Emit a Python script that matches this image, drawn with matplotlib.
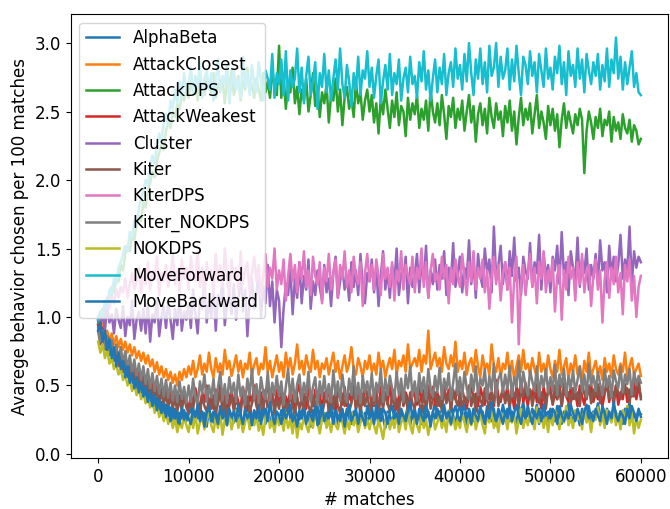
import matplotlib
matplotlib.use("Agg")
import matplotlib.pyplot as plt

plt.rcParams["font.size"] = 12

# matches, sampled every 250
matches = list(range(0, 60001, 250))

alpha_beta = [
    0.98, 0.86, 0.92, 0.80, 0.86, 0.74, 0.80, 0.70, 0.76, 0.66,
    0.72, 0.60, 0.66, 0.56, 0.62, 0.52, 0.58, 0.48, 0.55, 0.45,
    0.50, 0.42, 0.47, 0.38, 0.44, 0.35, 0.41, 0.32, 0.38, 0.30,
    0.36, 0.28, 0.34, 0.25, 0.33, 0.22, 0.30, 0.26, 0.32, 0.24,
    0.29, 0.35, 0.22, 0.31, 0.26, 0.37, 0.24, 0.30, 0.20, 0.33,
    0.27, 0.23, 0.34, 0.21, 0.30, 0.26, 0.36, 0.22, 0.31, 0.28,
    0.23, 0.33, 0.26, 0.30, 0.19, 0.32, 0.25, 0.35, 0.28, 0.22,
    0.31, 0.24, 0.29, 0.37, 0.22, 0.30, 0.26, 0.21, 0.34, 0.27,
    0.24, 0.32, 0.21, 0.30, 0.36, 0.26, 0.23, 0.33, 0.28, 0.25,
    0.30, 0.37, 0.24, 0.28, 0.20, 0.32, 0.26, 0.35, 0.22, 0.30,
    0.26, 0.21, 0.33, 0.28, 0.24, 0.37, 0.22, 0.30, 0.32, 0.25,
    0.33, 0.26, 0.22, 0.31, 0.28, 0.20, 0.35, 0.26, 0.30, 0.23,
    0.28, 0.35, 0.24, 0.30, 0.22, 0.33, 0.26, 0.19, 0.31, 0.28,
    0.23, 0.30, 0.37, 0.26, 0.32, 0.24, 0.28, 0.35, 0.21, 0.30,
    0.33, 0.25, 0.28, 0.22, 0.35, 0.26, 0.31, 0.24, 0.30, 0.38,
    0.26, 0.31, 0.22, 0.33, 0.28, 0.24, 0.36, 0.28, 0.22, 0.31,
    0.35, 0.26, 0.30, 0.21, 0.33, 0.28, 0.24, 0.37, 0.30, 0.26,
    0.31, 0.22, 0.35, 0.28, 0.24, 0.33, 0.21, 0.30, 0.26, 0.36,
    0.28, 0.33, 0.24, 0.31, 0.26, 0.22, 0.35, 0.30, 0.38, 0.26,
    0.30, 0.24, 0.33, 0.28, 0.36, 0.22, 0.31, 0.26, 0.30, 0.21,
    0.33, 0.28, 0.24, 0.35, 0.30, 0.22, 0.31, 0.26, 0.37, 0.28,
    0.24, 0.31, 0.28, 0.21, 0.33, 0.30, 0.26, 0.35, 0.24, 0.31,
    0.28, 0.37, 0.26, 0.30, 0.22, 0.33, 0.28, 0.24, 0.35, 0.30,
    0.26, 0.31, 0.22, 0.33, 0.28, 0.38, 0.24, 0.30, 0.26, 0.33,
    0.27]

attack_closest = [
    0.94, 0.88, 0.96, 0.86, 0.90, 0.82, 0.88, 0.80, 0.86, 0.78,
    0.84, 0.76, 0.82, 0.74, 0.80, 0.72, 0.78, 0.70, 0.75, 0.68,
    0.74, 0.66, 0.72, 0.64, 0.69, 0.60, 0.67, 0.58, 0.64, 0.56,
    0.62, 0.54, 0.60, 0.52, 0.58, 0.50, 0.60, 0.54, 0.62, 0.56,
    0.64, 0.58, 0.68, 0.56, 0.62, 0.72, 0.58, 0.66, 0.60, 0.74,
    0.62, 0.56, 0.70, 0.60, 0.66, 0.58, 0.76, 0.62, 0.68, 0.57,
    0.64, 0.72, 0.60, 0.68, 0.56, 0.66, 0.62, 0.74, 0.58, 0.65,
    0.70, 0.58, 0.66, 0.62, 0.78, 0.60, 0.68, 0.56, 0.64, 0.72,
    0.60, 0.67, 0.56, 0.74, 0.62, 0.70, 0.58, 0.66, 0.80, 0.62,
    0.68, 0.58, 0.72, 0.64, 0.60, 0.76, 0.62, 0.68, 0.56, 0.66,
    0.62, 0.70, 0.58, 0.66, 0.74, 0.60, 0.68, 0.55, 0.64, 0.72,
    0.60, 0.66, 0.78, 0.62, 0.58, 0.70, 0.64, 0.56, 0.68, 0.62,
    0.72, 0.60, 0.66, 0.58, 0.74, 0.62, 0.68, 0.56, 0.64, 0.70,
    0.62, 0.76, 0.58, 0.68, 0.64, 0.72, 0.60, 0.80, 0.62, 0.66,
    0.70, 0.64, 0.76, 0.60, 0.72, 0.66, 0.90, 0.62, 0.68, 0.74,
    0.64, 0.70, 0.60, 0.78, 0.66, 0.62, 0.72, 0.64, 0.82, 0.60,
    0.68, 0.62, 0.74, 0.58, 0.66, 0.70, 0.60, 0.76, 0.64, 0.56,
    0.72, 0.62, 0.66, 0.58, 0.80, 0.64, 0.60, 0.70, 0.56, 0.66,
    0.62, 0.74, 0.58, 0.68, 0.54, 0.64, 0.72, 0.60, 0.76, 0.62,
    0.66, 0.58, 0.70, 0.62, 0.56, 0.74, 0.60, 0.66, 0.58, 0.72,
    0.62, 0.56, 0.68, 0.60, 0.76, 0.58, 0.64, 0.70, 0.55, 0.66,
    0.60, 0.72, 0.58, 0.64, 0.52, 0.68, 0.60, 0.74, 0.56, 0.62,
    0.68, 0.58, 0.64, 0.54, 0.70, 0.60, 0.66, 0.56, 0.72, 0.62,
    0.58, 0.66, 0.60, 0.74, 0.56, 0.64, 0.70, 0.58, 0.62, 0.66,
    0.57]

attack_dps = [
    0.96, 1.02, 1.06, 1.00, 1.14, 1.10, 1.22, 1.18, 1.30, 1.26,
    1.38, 1.34, 1.46, 1.52, 1.48, 1.60, 1.56, 1.68, 1.74, 1.70,
    1.84, 1.80, 1.92, 1.98, 2.06, 2.02, 2.14, 2.20, 2.26, 2.22,
    2.36, 2.42, 2.38, 2.50, 2.46, 2.56, 2.52, 2.62, 2.58, 2.66,
    2.60, 2.72, 2.64, 2.70, 2.58, 2.76, 2.66, 2.62, 2.74, 2.68,
    2.64, 2.78, 2.60, 2.70, 2.66, 2.74, 2.56, 2.72, 2.68, 2.80,
    2.62, 2.70, 2.76, 2.58, 2.72, 2.66, 2.82, 2.64, 2.70, 2.60,
    2.74, 2.66, 2.58, 2.78, 2.64, 2.72, 2.60, 2.80, 2.68, 2.62,
    2.98, 2.60, 2.76, 2.52, 2.70, 2.64, 2.82, 2.56, 2.68, 2.48,
    2.66, 2.58, 2.74, 2.50, 2.62, 2.78, 2.54, 2.68, 2.46, 2.64,
    2.56, 2.70, 2.42, 2.62, 2.58, 2.74, 2.50, 2.66, 2.40, 2.60,
    2.68, 2.52, 2.60, 2.46, 2.72, 2.56, 2.64, 2.44, 2.58, 2.66,
    2.50, 2.62, 2.42, 2.56, 2.34, 2.60, 2.48, 2.66, 2.52, 2.38,
    2.58, 2.46, 2.64, 2.40, 2.54, 2.50, 2.32, 2.60, 2.44, 2.56,
    2.48, 2.62, 2.38, 2.52, 2.44, 2.58, 2.36, 2.66, 2.50, 2.42,
    2.56, 2.40, 2.62, 2.48, 2.30, 2.54, 2.46, 2.60, 2.38, 2.52,
    2.44, 2.58, 2.36, 2.50, 2.62, 2.42, 2.54, 2.28, 2.48, 2.56,
    2.40, 2.52, 2.34, 2.60, 2.46, 2.38, 2.56, 2.44, 2.50, 2.32,
    2.54, 2.42, 2.58, 2.36, 2.50, 2.26, 2.46, 2.60, 2.40, 2.52,
    2.44, 2.56, 2.34, 2.48, 2.62, 2.38, 2.50, 2.42, 2.30, 2.54,
    2.40, 2.52, 2.36, 2.48, 2.24, 2.44, 2.56, 2.38, 2.50, 2.42,
    2.34, 2.48, 2.40, 2.52, 2.44, 2.05, 2.36, 2.50, 2.42, 2.30,
    2.46, 2.38, 2.52, 2.32, 2.44, 2.40, 2.50, 2.28, 2.46, 2.36,
    2.42, 2.30, 2.48, 2.38, 2.34, 2.44, 2.28, 2.40, 2.36, 2.26,
    2.30]

attack_weakest = [
    0.94, 0.84, 0.92, 0.80, 0.86, 0.76, 0.82, 0.72, 0.78, 0.68,
    0.74, 0.64, 0.70, 0.60, 0.66, 0.57, 0.63, 0.54, 0.60, 0.51,
    0.58, 0.48, 0.55, 0.45, 0.52, 0.43, 0.50, 0.41, 0.48, 0.39,
    0.47, 0.37, 0.45, 0.36, 0.44, 0.34, 0.43, 0.36, 0.46, 0.38,
    0.33, 0.43, 0.36, 0.48, 0.40, 0.32, 0.45, 0.38, 0.50, 0.35,
    0.42, 0.33, 0.47, 0.38, 0.51, 0.36, 0.44, 0.32, 0.40, 0.47,
    0.35, 0.45, 0.38, 0.33, 0.49, 0.40, 0.31, 0.44, 0.37, 0.50,
    0.40, 0.33, 0.45, 0.36, 0.42, 0.53, 0.35, 0.44, 0.32, 0.47,
    0.38, 0.49, 0.33, 0.42, 0.36, 0.47, 0.40, 0.32, 0.45, 0.51,
    0.36, 0.44, 0.33, 0.49, 0.40, 0.35, 0.47, 0.38, 0.44, 0.32,
    0.45, 0.38, 0.50, 0.35, 0.42, 0.33, 0.47, 0.40, 0.36, 0.49,
    0.35, 0.44, 0.38, 0.53, 0.33, 0.45, 0.40, 0.36, 0.50, 0.42,
    0.47, 0.35, 0.44, 0.38, 0.33, 0.49, 0.40, 0.45, 0.36, 0.51,
    0.38, 0.47, 0.33, 0.42, 0.50, 0.36, 0.45, 0.40, 0.35, 0.49,
    0.42, 0.36, 0.51, 0.38, 0.47, 0.33, 0.44, 0.40, 0.49, 0.36,
    0.45, 0.35, 0.42, 0.50, 0.38, 0.47, 0.33, 0.44, 0.40, 0.53,
    0.36, 0.47, 0.40, 0.33, 0.45, 0.51, 0.38, 0.44, 0.35, 0.49,
    0.42, 0.36, 0.50, 0.40, 0.45, 0.35, 0.54, 0.42, 0.38, 0.47,
    0.40, 0.50, 0.36, 0.44, 0.33, 0.49, 0.42, 0.53, 0.38, 0.45,
    0.35, 0.47, 0.42, 0.51, 0.38, 0.44, 0.33, 0.49, 0.40, 0.45,
    0.50, 0.36, 0.44, 0.40, 0.53, 0.35, 0.47, 0.42, 0.38, 0.49,
    0.40, 0.45, 0.35, 0.50, 0.42, 0.36, 0.47, 0.44, 0.51, 0.38,
    0.45, 0.40, 0.49, 0.35, 0.44, 0.53, 0.38, 0.47, 0.42, 0.50,
    0.36, 0.45, 0.40, 0.51, 0.38, 0.47, 0.42, 0.55, 0.40, 0.49,
    0.42]

cluster = [
    1.00, 0.94, 1.04, 0.90, 1.08, 0.96, 1.02, 0.88, 1.06, 0.98,
    0.92, 1.08, 0.86, 1.00, 0.94, 1.12, 0.84, 0.98, 1.04, 0.90,
    1.06, 0.88, 1.10, 0.82, 1.02, 0.96, 1.14, 0.86, 1.00, 1.08,
    0.92, 1.12, 0.98, 0.84, 1.06, 0.94, 1.16, 0.90, 1.04, 0.98,
    1.10, 0.92, 1.20, 1.02, 0.88, 1.14, 1.06, 1.26, 0.96, 1.12,
    1.00, 1.22, 0.90, 1.16, 1.08, 1.30, 0.94, 1.10, 1.18, 1.02,
    1.24, 0.98, 1.12, 1.34, 1.04, 1.20, 0.86, 1.14, 1.28, 1.06,
    1.18, 1.32, 1.00, 1.22, 1.10, 1.38, 1.08, 1.26, 0.96, 1.20,
    1.12, 0.78, 1.06, 1.24, 1.16, 1.36, 1.02, 1.28, 1.14, 1.40,
    1.10, 1.30, 1.20, 1.42, 1.06, 1.26, 1.16, 1.34, 1.22, 1.12,
    1.38, 1.18, 1.28, 1.08, 1.32, 1.44, 1.14, 1.26, 1.36, 1.20,
    1.30, 1.12, 1.40, 1.22, 1.34, 1.16, 1.46, 1.24, 1.10, 1.32,
    1.26, 1.42, 1.18, 1.36, 1.08, 1.30, 1.48, 1.20, 1.34, 1.14,
    1.38, 1.24, 1.50, 1.16, 1.32, 1.28, 1.44, 1.10, 1.36, 1.22,
    1.30, 1.46, 1.18, 1.40, 1.26, 1.52, 1.14, 1.34, 1.24, 1.42,
    1.20, 1.38, 1.28, 1.48, 1.16, 1.36, 1.26, 1.54, 1.22, 1.32,
    1.44, 1.18, 1.36, 1.28, 1.56, 1.24, 1.40, 1.14, 1.46, 1.30,
    1.22, 1.50, 1.32, 1.42, 1.18, 1.66, 1.28, 1.38, 1.52, 1.24,
    1.40, 1.20, 1.48, 1.30, 1.58, 1.26, 1.36, 1.16, 1.44, 1.34,
    1.28, 1.54, 1.22, 1.40, 1.32, 1.60, 1.20, 1.46, 1.30, 1.38,
    1.18, 1.44, 1.34, 1.52, 1.24, 1.62, 1.30, 1.40, 1.16, 1.48,
    1.36, 1.26, 1.58, 1.22, 1.42, 1.32, 1.50, 1.20, 1.38, 1.28,
    1.46, 1.24, 1.56, 1.34, 1.40, 1.18, 1.52, 1.30, 1.44, 1.26,
    1.38, 1.60, 1.28, 1.42, 1.34, 1.66, 1.24, 1.48, 1.36, 1.44,
    1.40]

kiter = [
    0.90, 0.80, 0.88, 0.76, 0.84, 0.72, 0.79, 0.68, 0.75, 0.64,
    0.71, 0.60, 0.67, 0.57, 0.63, 0.53, 0.60, 0.50, 0.57, 0.47,
    0.54, 0.45, 0.52, 0.42, 0.49, 0.40, 0.47, 0.38, 0.45, 0.36,
    0.44, 0.34, 0.42, 0.33, 0.41, 0.31, 0.40, 0.32, 0.42, 0.34,
    0.30, 0.41, 0.33, 0.44, 0.37, 0.29, 0.43, 0.35, 0.31, 0.40,
    0.33, 0.43, 0.30, 0.37, 0.46, 0.31, 0.40, 0.28, 0.35, 0.42,
    0.31, 0.40, 0.35, 0.29, 0.45, 0.33, 0.42, 0.30, 0.37, 0.44,
    0.35, 0.29, 0.42, 0.33, 0.47, 0.31, 0.37, 0.44, 0.30, 0.40,
    0.33, 0.44, 0.30, 0.37, 0.31, 0.45, 0.35, 0.29, 0.42, 0.33,
    0.40, 0.31, 0.47, 0.35, 0.30, 0.42, 0.33, 0.44, 0.37, 0.29,
    0.37, 0.45, 0.31, 0.40, 0.33, 0.48, 0.35, 0.30, 0.44, 0.35,
    0.42, 0.31, 0.37, 0.47, 0.33, 0.40, 0.30, 0.44, 0.35, 0.45,
    0.31, 0.40, 0.35, 0.47, 0.30, 0.42, 0.33, 0.45, 0.37, 0.31,
    0.44, 0.33, 0.40, 0.30, 0.48, 0.35, 0.42, 0.31, 0.45, 0.37,
    0.33, 0.47, 0.37, 0.31, 0.44, 0.35, 0.50, 0.33, 0.40, 0.45,
    0.35, 0.42, 0.31, 0.48, 0.37, 0.44, 0.33, 0.47, 0.40, 0.35,
    0.45, 0.33, 0.42, 0.37, 0.50, 0.35, 0.44, 0.31, 0.47, 0.40,
    0.35, 0.48, 0.40, 0.33, 0.45, 0.37, 0.51, 0.35, 0.42, 0.47,
    0.37, 0.44, 0.33, 0.50, 0.40, 0.47, 0.35, 0.45, 0.42, 0.52,
    0.40, 0.47, 0.35, 0.44, 0.51, 0.37, 0.45, 0.42, 0.33, 0.48,
    0.44, 0.37, 0.50, 0.40, 0.47, 0.35, 0.52, 0.42, 0.45, 0.37,
    0.48, 0.40, 0.45, 0.35, 0.51, 0.44, 0.40, 0.50, 0.37, 0.47,
    0.42, 0.51, 0.37, 0.47, 0.44, 0.54, 0.40, 0.48, 0.35, 0.50,
    0.45, 0.40, 0.52, 0.44, 0.48, 0.37, 0.51, 0.42, 0.47, 0.55,
    0.40]

kiter_dps = [
    0.98, 1.04, 1.00, 1.08, 1.12, 1.06, 1.16, 1.10, 1.20, 1.14,
    1.22, 1.18, 1.28, 1.14, 1.24, 1.32, 1.20, 1.26, 1.36, 1.18,
    1.30, 1.24, 1.40, 1.20, 1.34, 1.28, 1.44, 1.16, 1.32, 1.26,
    1.38, 1.22, 1.30, 1.46, 1.24, 1.34, 1.18, 1.42, 1.28, 1.36,
    1.20, 1.44, 1.30, 1.26, 1.48, 1.22, 1.36, 1.14, 1.40, 1.28,
    1.34, 1.18, 1.46, 1.26, 1.38, 1.22, 1.50, 1.30, 1.16, 1.42,
    1.28, 1.36, 1.20, 1.48, 1.24, 1.34, 1.40, 1.18, 1.32, 1.44,
    1.26, 1.38, 1.14, 1.30, 1.46, 1.22, 1.36, 1.28, 1.50, 1.20,
    1.34, 1.24, 1.42, 1.12, 1.30, 1.46, 1.26, 1.38, 1.18, 1.40,
    1.28, 1.48, 1.22, 1.34, 1.16, 1.44, 1.30, 1.24, 1.40, 1.10,
    1.36, 1.26, 1.46, 1.20, 1.32, 1.42, 1.14, 1.38, 1.28, 1.48,
    1.22, 1.34, 1.18, 1.44, 1.30, 1.24, 1.40, 1.08, 1.32, 1.46,
    1.26, 1.38, 1.20, 1.42, 1.30, 1.16, 1.46, 1.28, 1.36, 1.22,
    1.40, 1.12, 1.34, 1.26, 1.48, 1.20, 1.38, 1.30, 1.24, 1.44,
    1.18, 1.36, 1.28, 1.50, 1.22, 1.40, 1.14, 1.34, 1.46, 1.26,
    1.32, 1.20, 1.44, 1.28, 1.38, 1.10, 1.36, 1.24, 1.42, 1.30,
    1.22, 1.46, 1.30, 1.16, 1.40, 1.26, 1.48, 1.20, 1.36, 1.28,
    1.42, 1.18, 1.34, 1.06, 1.30, 1.44, 1.24, 1.38, 1.12, 1.32,
    1.40, 1.20, 1.36, 0.96, 1.28, 1.44, 0.80, 1.24, 1.38, 1.16,
    1.32, 1.46, 1.22, 1.36, 1.10, 1.40, 1.28, 1.48, 1.18, 1.34,
    1.26, 1.42, 1.04, 1.30, 1.38, 0.98, 1.34, 1.20, 1.44, 1.28,
    1.36, 1.12, 1.40, 1.24, 1.46, 1.18, 1.32, 1.38, 1.08, 1.30,
    1.42, 1.20, 1.34, 0.96, 1.28, 1.40, 1.14, 1.36, 1.24, 1.44,
    1.18, 1.32, 1.02, 1.38, 1.26, 1.42, 1.12, 1.30, 1.00, 1.22,
    1.30]

kiter_nokdps = [
    0.92, 0.82, 0.90, 0.78, 0.86, 0.74, 0.83, 0.71, 0.80, 0.68,
    0.78, 0.66, 0.75, 0.62, 0.72, 0.59, 0.69, 0.56, 0.66, 0.54,
    0.64, 0.51, 0.62, 0.48, 0.59, 0.46, 0.57, 0.44, 0.55, 0.42,
    0.54, 0.41, 0.52, 0.39, 0.50, 0.38, 0.53, 0.40, 0.49, 0.37,
    0.50, 0.38, 0.55, 0.41, 0.36, 0.53, 0.44, 0.58, 0.38, 0.50,
    0.41, 0.55, 0.36, 0.49, 0.60, 0.39, 0.51, 0.37, 0.56, 0.44,
    0.52, 0.38, 0.58, 0.42, 0.49, 0.36, 0.55, 0.43, 0.62, 0.40,
    0.51, 0.37, 0.56, 0.45, 0.40, 0.60, 0.38, 0.52, 0.43, 0.57,
    0.42, 0.53, 0.36, 0.49, 0.62, 0.40, 0.55, 0.38, 0.51, 0.58,
    0.39, 0.52, 0.43, 0.60, 0.38, 0.49, 0.56, 0.36, 0.53, 0.42,
    0.57, 0.40, 0.51, 0.38, 0.61, 0.43, 0.53, 0.39, 0.58, 0.45,
    0.38, 0.55, 0.43, 0.64, 0.40, 0.52, 0.37, 0.57, 0.45, 0.53,
    0.42, 0.59, 0.39, 0.52, 0.45, 0.62, 0.38, 0.55, 0.43, 0.57,
    0.48, 0.40, 0.60, 0.43, 0.55, 0.38, 0.58, 0.48, 0.64, 0.42,
    0.53, 0.39, 0.59, 0.45, 0.56, 0.40, 0.62, 0.48, 0.42, 0.57,
    0.45, 0.63, 0.40, 0.55, 0.47, 0.59, 0.39, 0.52, 0.66, 0.43,
    0.56, 0.42, 0.60, 0.48, 0.40, 0.58, 0.46, 0.64, 0.43, 0.55,
    0.50, 0.62, 0.40, 0.57, 0.46, 0.66, 0.43, 0.55, 0.59, 0.45,
    0.58, 0.47, 0.64, 0.42, 0.56, 0.49, 0.68, 0.45, 0.60, 0.50,
    0.43, 0.61, 0.53, 0.46, 0.64, 0.42, 0.57, 0.49, 0.62, 0.45,
    0.56, 0.46, 0.65, 0.43, 0.58, 0.49, 0.62, 0.42, 0.57, 0.48,
    0.61, 0.45, 0.54, 0.64, 0.46, 0.58, 0.42, 0.66, 0.50, 0.57,
    0.46, 0.60, 0.51, 0.43, 0.62, 0.49, 0.57, 0.41, 0.61, 0.53,
    0.48, 0.64, 0.45, 0.58, 0.51, 0.62, 0.43, 0.60, 0.50, 0.57,
    0.52]

nokdps = [
    0.82, 0.74, 0.80, 0.70, 0.76, 0.66, 0.70, 0.62, 0.66, 0.58,
    0.62, 0.54, 0.58, 0.50, 0.55, 0.46, 0.51, 0.43, 0.48, 0.40,
    0.45, 0.37, 0.42, 0.34, 0.39, 0.30, 0.36, 0.27, 0.33, 0.24,
    0.30, 0.22, 0.28, 0.19, 0.26, 0.16, 0.24, 0.19, 0.27, 0.21,
    0.16, 0.27, 0.19, 0.30, 0.15, 0.23, 0.28, 0.18, 0.25, 0.31,
    0.21, 0.16, 0.27, 0.19, 0.30, 0.14, 0.25, 0.21, 0.29, 0.18,
    0.25, 0.32, 0.19, 0.27, 0.16, 0.23, 0.30, 0.18, 0.26, 0.21,
    0.28, 0.17, 0.23, 0.14, 0.27, 0.33, 0.19, 0.25, 0.16, 0.28,
    0.21, 0.27, 0.17, 0.30, 0.19, 0.25, 0.15, 0.28, 0.12, 0.23,
    0.18, 0.28, 0.21, 0.16, 0.27, 0.19, 0.32, 0.23, 0.15, 0.25,
    0.30, 0.19, 0.25, 0.16, 0.28, 0.21, 0.18, 0.27, 0.23, 0.15,
    0.25, 0.18, 0.30, 0.21, 0.27, 0.16, 0.23, 0.29, 0.19, 0.25,
    0.18, 0.27, 0.21, 0.15, 0.25, 0.19, 0.11, 0.23, 0.29, 0.18,
    0.25, 0.19, 0.30, 0.16, 0.23, 0.27, 0.18, 0.32, 0.21, 0.15,
    0.27, 0.21, 0.16, 0.29, 0.19, 0.25, 0.14, 0.23, 0.30, 0.18,
    0.23, 0.29, 0.19, 0.25, 0.16, 0.32, 0.21, 0.27, 0.18, 0.25,
    0.19, 0.30, 0.23, 0.16, 0.27, 0.21, 0.33, 0.18, 0.25, 0.29,
    0.21, 0.15, 0.29, 0.23, 0.32, 0.19, 0.25, 0.16, 0.30, 0.23,
    0.27, 0.18, 0.32, 0.23, 0.29, 0.15, 0.25, 0.33, 0.19, 0.27,
    0.21, 0.30, 0.25, 0.18, 0.34, 0.23, 0.29, 0.19, 0.27, 0.16,
    0.29, 0.21, 0.32, 0.25, 0.18, 0.30, 0.23, 0.35, 0.21, 0.27,
    0.19, 0.32, 0.25, 0.29, 0.18, 0.33, 0.23, 0.27, 0.16, 0.30,
    0.25, 0.34, 0.21, 0.29, 0.19, 0.32, 0.27, 0.23, 0.33, 0.21,
    0.29, 0.18, 0.32, 0.25, 0.35, 0.21, 0.30, 0.15, 0.27, 0.19,
    0.25]

move_forward = [
    0.98, 1.04, 1.00, 1.12, 1.08, 1.20, 1.16, 1.28, 1.24, 1.36,
    1.40, 1.46, 1.52, 1.48, 1.62, 1.58, 1.70, 1.66, 1.80, 1.86,
    1.92, 2.00, 1.96, 2.10, 2.18, 2.12, 2.26, 2.34, 2.28, 2.42,
    2.48, 2.40, 2.58, 2.52, 2.66, 2.56, 2.72, 2.60, 2.78, 2.64,
    2.70, 2.82, 2.62, 2.76, 2.68, 2.86, 2.60, 2.74, 2.80, 2.66,
    2.78, 2.58, 2.72, 2.88, 2.64, 2.76, 2.70, 2.84, 2.56, 2.72,
    2.80, 2.66, 2.74, 2.60, 2.90, 2.68, 2.78, 2.62, 2.84, 2.70,
    2.64, 2.86, 2.72, 2.58, 2.80, 2.74, 2.66, 2.92, 2.60, 2.78,
    2.70, 2.88, 2.62, 2.94, 2.58, 2.80, 2.68, 2.74, 2.96, 2.64,
    2.82, 2.56, 2.76, 2.90, 2.62, 2.72, 2.86, 2.52, 2.78, 2.68,
    2.92, 2.64, 2.80, 2.58, 2.74, 2.88, 2.66, 2.96, 2.70, 2.60,
    2.84, 2.72, 2.54, 2.78, 2.66, 2.90, 2.62, 2.80, 2.74, 2.94,
    2.68, 2.82, 2.60, 2.76, 2.88, 2.56, 2.72, 2.84, 2.66, 2.92,
    2.62, 2.78, 2.70, 2.88, 2.58, 2.74, 2.82, 2.64, 2.90, 2.70,
    2.76, 2.60, 2.86, 2.72, 2.94, 2.66, 2.80, 2.58, 2.74, 2.88,
    2.64, 2.82, 2.70, 2.92, 2.62, 2.78, 2.86, 2.68, 2.96, 2.74,
    2.84, 2.66, 2.92, 2.72, 3.00, 2.78, 2.62, 2.88, 2.74, 2.96,
    2.70, 2.86, 2.64, 2.98, 2.76, 2.82, 3.00, 2.68, 2.90, 2.74,
    2.80, 2.96, 2.66, 2.88, 2.72, 2.98, 2.78, 2.62, 2.90, 2.84,
    2.70, 2.94, 2.76, 2.86, 2.64, 2.92, 2.80, 2.68, 2.96, 2.74,
    2.82, 2.66, 2.90, 2.78, 2.98, 2.70, 2.86, 2.62, 2.94, 2.76,
    2.84, 2.68, 2.96, 2.74, 2.88, 2.64, 2.92, 2.80, 2.70, 2.86,
    2.76, 2.92, 2.66, 2.84, 2.72, 2.96, 2.68, 2.88, 2.78, 3.04,
    2.74, 2.90, 2.66, 2.86, 2.70, 2.82, 2.94, 2.68, 2.78, 2.64,
    2.62]

move_backward = [
    0.90, 0.96, 0.82, 0.90, 0.76, 0.84, 0.70, 0.78, 0.64, 0.74,
    0.62, 0.68, 0.56, 0.64, 0.52, 0.59, 0.48, 0.56, 0.45, 0.52,
    0.42, 0.49, 0.38, 0.46, 0.35, 0.43, 0.32, 0.40, 0.30, 0.37,
    0.27, 0.35, 0.24, 0.33, 0.26, 0.31, 0.22, 0.34, 0.25, 0.30,
    0.26, 0.22, 0.33, 0.27, 0.36, 0.24, 0.31, 0.20, 0.30, 0.35,
    0.24, 0.31, 0.28, 0.22, 0.35, 0.26, 0.30, 0.21, 0.33, 0.27,
    0.31, 0.24, 0.36, 0.28, 0.22, 0.33, 0.26, 0.30, 0.21, 0.32,
    0.26, 0.35, 0.22, 0.30, 0.33, 0.24, 0.38, 0.28, 0.22, 0.31,
    0.28, 0.22, 0.33, 0.26, 0.30, 0.36, 0.24, 0.28, 0.20, 0.32,
    0.26, 0.33, 0.22, 0.31, 0.28, 0.24, 0.35, 0.21, 0.30, 0.36,
    0.24, 0.30, 0.26, 0.35, 0.22, 0.31, 0.28, 0.24, 0.33, 0.20,
    0.30, 0.36, 0.24, 0.28, 0.33, 0.22, 0.31, 0.26, 0.21, 0.35,
    0.26, 0.31, 0.22, 0.36, 0.28, 0.24, 0.33, 0.30, 0.22, 0.31,
    0.35, 0.26, 0.30, 0.22, 0.33, 0.28, 0.24, 0.31, 0.38, 0.26,
    0.30, 0.22, 0.33, 0.28, 0.24, 0.35, 0.30, 0.20, 0.31, 0.26,
    0.33, 0.28, 0.24, 0.36, 0.26, 0.31, 0.22, 0.30, 0.35, 0.28,
    0.24, 0.31, 0.36, 0.26, 0.30, 0.22, 0.33, 0.28, 0.24, 0.35,
    0.28, 0.22, 0.31, 0.26, 0.38, 0.30, 0.24, 0.33, 0.28, 0.22,
    0.31, 0.26, 0.35, 0.24, 0.30, 0.36, 0.28, 0.22, 0.31, 0.26,
    0.35, 0.28, 0.22, 0.31, 0.26, 0.33, 0.24, 0.36, 0.28, 0.31,
    0.26, 0.33, 0.30, 0.22, 0.35, 0.28, 0.24, 0.31, 0.26, 0.36,
    0.30, 0.24, 0.33, 0.28, 0.22, 0.31, 0.36, 0.26, 0.30, 0.24,
    0.33, 0.28, 0.24, 0.35, 0.30, 0.22, 0.31, 0.26, 0.38, 0.28,
    0.24, 0.31, 0.28, 0.22, 0.33, 0.26, 0.35, 0.30, 0.24, 0.31,
    0.29]

names = ["AlphaBeta", "AttackClosest", "AttackDPS", "AttackWeakest", "Cluster",
         "Kiter", "KiterDPS", "Kiter_NOKDPS", "NOKDPS", "MoveForward", "MoveBackward"]
series = [alpha_beta, attack_closest, attack_dps, attack_weakest, cluster,
          kiter, kiter_dps, kiter_nokdps, nokdps, move_forward, move_backward]

fig = plt.figure(figsize=(6.7, 5.09), dpi=100)
ax = fig.add_subplot(111)
fig.subplots_adjust(left=0.106, right=0.997, bottom=0.10, top=0.972)

for name, vals in zip(names, series):
    ax.plot(matches, vals, label=name, linewidth=1.8)

ax.set_xlim(-3000, 63000)
ax.set_ylim(-0.03, 3.21)
ax.set_xlabel("# matches")
ax.set_ylabel("Avarege behavior chosen per 100 matches")
ax.set_yticks([0.0, 0.5, 1.0, 1.5, 2.0, 2.5, 3.0])
ax.legend(loc="upper left")

fig.savefig("out.png", dpi=100)
